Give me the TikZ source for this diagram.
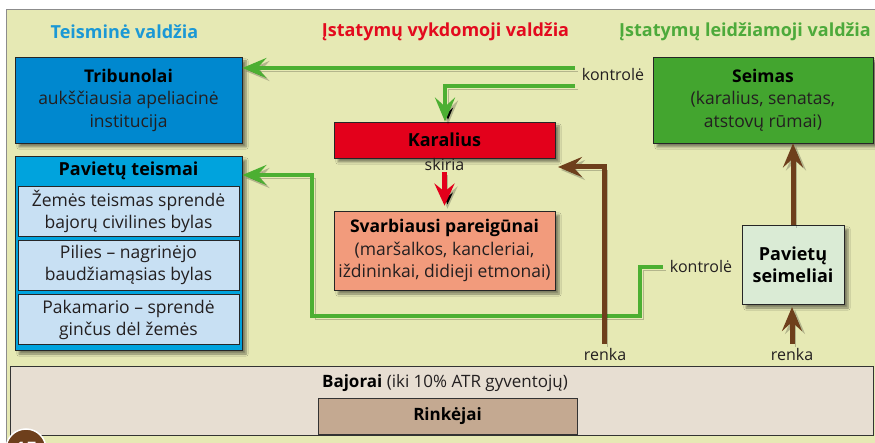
\documentclass[tikz,border=0pt]{standalone}
\usepackage{fontspec}
\setmainfont{Open Sans}
\usetikzlibrary{arrows.meta,shadows.blur}
\definecolor{bgpanel}{RGB}{230,233,180}
\definecolor{txt}{RGB}{35,31,32}
\definecolor{hblue}{RGB}{27,152,213}
\definecolor{hred}{RGB}{227,10,30}
\definecolor{hgreen}{RGB}{77,170,59}
\definecolor{tribblue}{RGB}{0,136,207}
\definecolor{ptblue}{RGB}{0,163,221}
\definecolor{subblue}{RGB}{200,224,243}
\definecolor{kred}{RGB}{227,0,27}
\definecolor{salmon}{RGB}{242,155,124}
\definecolor{sgreen}{RGB}{67,165,47}
\definecolor{lgreen}{RGB}{218,235,213}
\definecolor{gline}{RGB}{76,175,50}
\definecolor{brown}{RGB}{110,63,28}
\definecolor{bajpanel}{RGB}{231,222,210}
\definecolor{rink}{RGB}{196,169,145}
\begin{document}
\begin{tikzpicture}[x=1pt,y=-1pt,
  font=\fontsize{17.5}{22.5}\selectfont,
  box/.style={draw=black!85, line width=0.8pt, inner sep=2pt, align=center, text=txt,
    blur shadow={shadow xshift=4pt,shadow yshift=-4pt,shadow blur steps=6,shadow opacity=45}},
  subbox/.style={draw=black!85, line width=0.8pt, fill=subblue, align=center, text=txt,
    minimum width=221pt, minimum height=50pt, inner sep=1pt, font=\fontsize{17.5}{22}\selectfont},
  hdr/.style={font=\fontsize{18}{21}\selectfont\bfseries},
  lbl/.style={text=txt, inner sep=1pt, font=\fontsize{16}{19}\selectfont},
  lshadow/.style={preaction={draw=black, draw opacity=0.22, transform canvas={shift={(3pt,-3pt)}}}},
  garrow/.style={draw=gline, line width=4pt, lshadow, -{Stealth[length=24pt,width=20pt,inset=9pt]}},
  barrow/.style={draw=brown, line width=5pt, lshadow, -{Stealth[length=24pt,width=20pt,inset=9pt]}},
  rarrow/.style={draw=kred, line width=5pt, lshadow, -{Stealth[length=22pt,width=20pt,inset=8pt]}}
]
\useasboundingbox (0,0) rectangle (875,443);
\fill[white] (0,0) rectangle (875,443);
\fill[bgpanel] (6,10) rectangle (875,443);
\draw[black!45,line width=1pt] (6,443) -- (6,10) -- (875,10);

% headers
\node[hdr,text=hblue] (h1) at (124.5,32) {Teisminė valdžia};
\node[hdr,text=hred] (h2) at (445.5,32) {Įstatymų vykdomoji valdžia};
\node[hdr,text=hgreen] (h3) at (745,32) {Įstatymų leidžiamoji valdžia};

% bottom panel
\node[draw=black!80, line width=0.8pt, fill=bajpanel, minimum width=863pt, minimum height=69pt, inner sep=0pt] (baj) at (441.5,400.5) {};
\node[text=txt, inner sep=1pt, font=\fontsize{17}{20}\selectfont] (bajt) at (445,383) {\textbf{\color{black}Bajorai} (iki 10\% ATR gyventojų)};
\node[draw=black!80, line width=0.8pt, fill=rink, minimum width=259pt, minimum height=36pt, inner sep=0pt, font=\fontsize{17}{20}\selectfont\bfseries] (rink) at (447.5,416) {Rinkėjai};

% judicial
\node[box, fill=tribblue, minimum width=227pt, minimum height=86pt] (trib) at (128.5,100)
  {\textbf{\color{black}Tribunolai}\\aukščiausia apeliacinė\\institucija};
\node[box, fill=ptblue, minimum width=227pt, minimum height=194pt] (pt) at (128.5,253) {};
\node[inner sep=1pt, font=\fontsize{18}{21}\selectfont\bfseries, text=black] (pth) at (128.5,171) {Pavietų teismai};
\node[subbox] (s1) at (128.5,211) {Žemės teismas sprendė\\bajorų civilines bylas};
\node[subbox] (s2) at (128.5,265) {Pilies – nagrinėjo\\baudžiamąsias bylas};
\node[subbox] (s3) at (128.5,319.5) {Pakamario – sprendė\\ginčus dėl žemės};

% executive
\node[box, fill=kred, minimum width=221pt, minimum height=36pt, font=\fontsize{18}{21}\selectfont\bfseries, text=black] (kar) at (444.5,140) {Karalius};
\node[lbl] (skiria) at (444.5,165) {skiria};
\node[box, fill=salmon, minimum width=221pt, minimum height=79pt] (svarb) at (444.5,250.5)
  {\textbf{\color{black}Svarbiausi pareigūnai}\\(maršalkos, kancleriai,\\iždininkai, didieji etmonai)};

% legislative
\node[box, fill=sgreen, minimum width=220pt, minimum height=86pt] (seim) at (763,100)
  {\textbf{\color{black}Seimas}\\(karalius, senatas,\\atstovų rūmai)};
\node[box, fill=lgreen, minimum width=102pt, minimum height=79pt, font=\fontsize{18}{22}\selectfont\bfseries, text=black] (seml) at (793,264.5) {Pavietų\\seimeliai};

% labels
\node[lbl] (k1) at (613,75) {kontrolė};
\node[lbl] (k2) at (701,267) {kontrolė};
\node[lbl] (r1) at (605,354) {renka};
\node[lbl] (r2) at (792,354) {renka};

% coordinates
\coordinate (k1a) at (575,68);
\coordinate (k1b) at (575,86);
\coordinate (g1) at (445,86);
\coordinate (k2a) at (663,267);
\coordinate (g2) at (640,267);
\coordinate (g3) at (640,316);
\coordinate (g4) at (312,316);
\coordinate (g5) at (312,175);
\coordinate (b1) at (604,344);
\coordinate (b2) at (604,167);
\coordinate (b3) at (558,167);
\coordinate (b4) at (792,344);
\coordinate (b5) at (792,307);

% green connectors
\draw[garrow] (k1a) -- (trib.east |- k1a);
\draw[garrow] (k1b) -- (g1) -- (g1 |- kar.north);
\draw[garrow] (k2a) -- (g2) -- (g3) -- (g4) -- (g5) -- (pt.east |- g5);

% brown connectors
\draw[barrow] (b1) -- (b2) -- (b3);
\draw[barrow] (seml.north) -- (seml.north |- seim.south);
\draw[barrow] (b4) -- (b5);

% red
\draw[rarrow, shorten >=5pt] (skiria.south) -- (svarb.north);

% page badge
\node[circle, fill=brown, draw=white, line width=1.5pt, minimum size=40pt, inner sep=0pt,
  text=white, font=\fontsize{20}{20}\selectfont\bfseries] (badge) at (26,449) {15};
\end{tikzpicture}
\end{document}
